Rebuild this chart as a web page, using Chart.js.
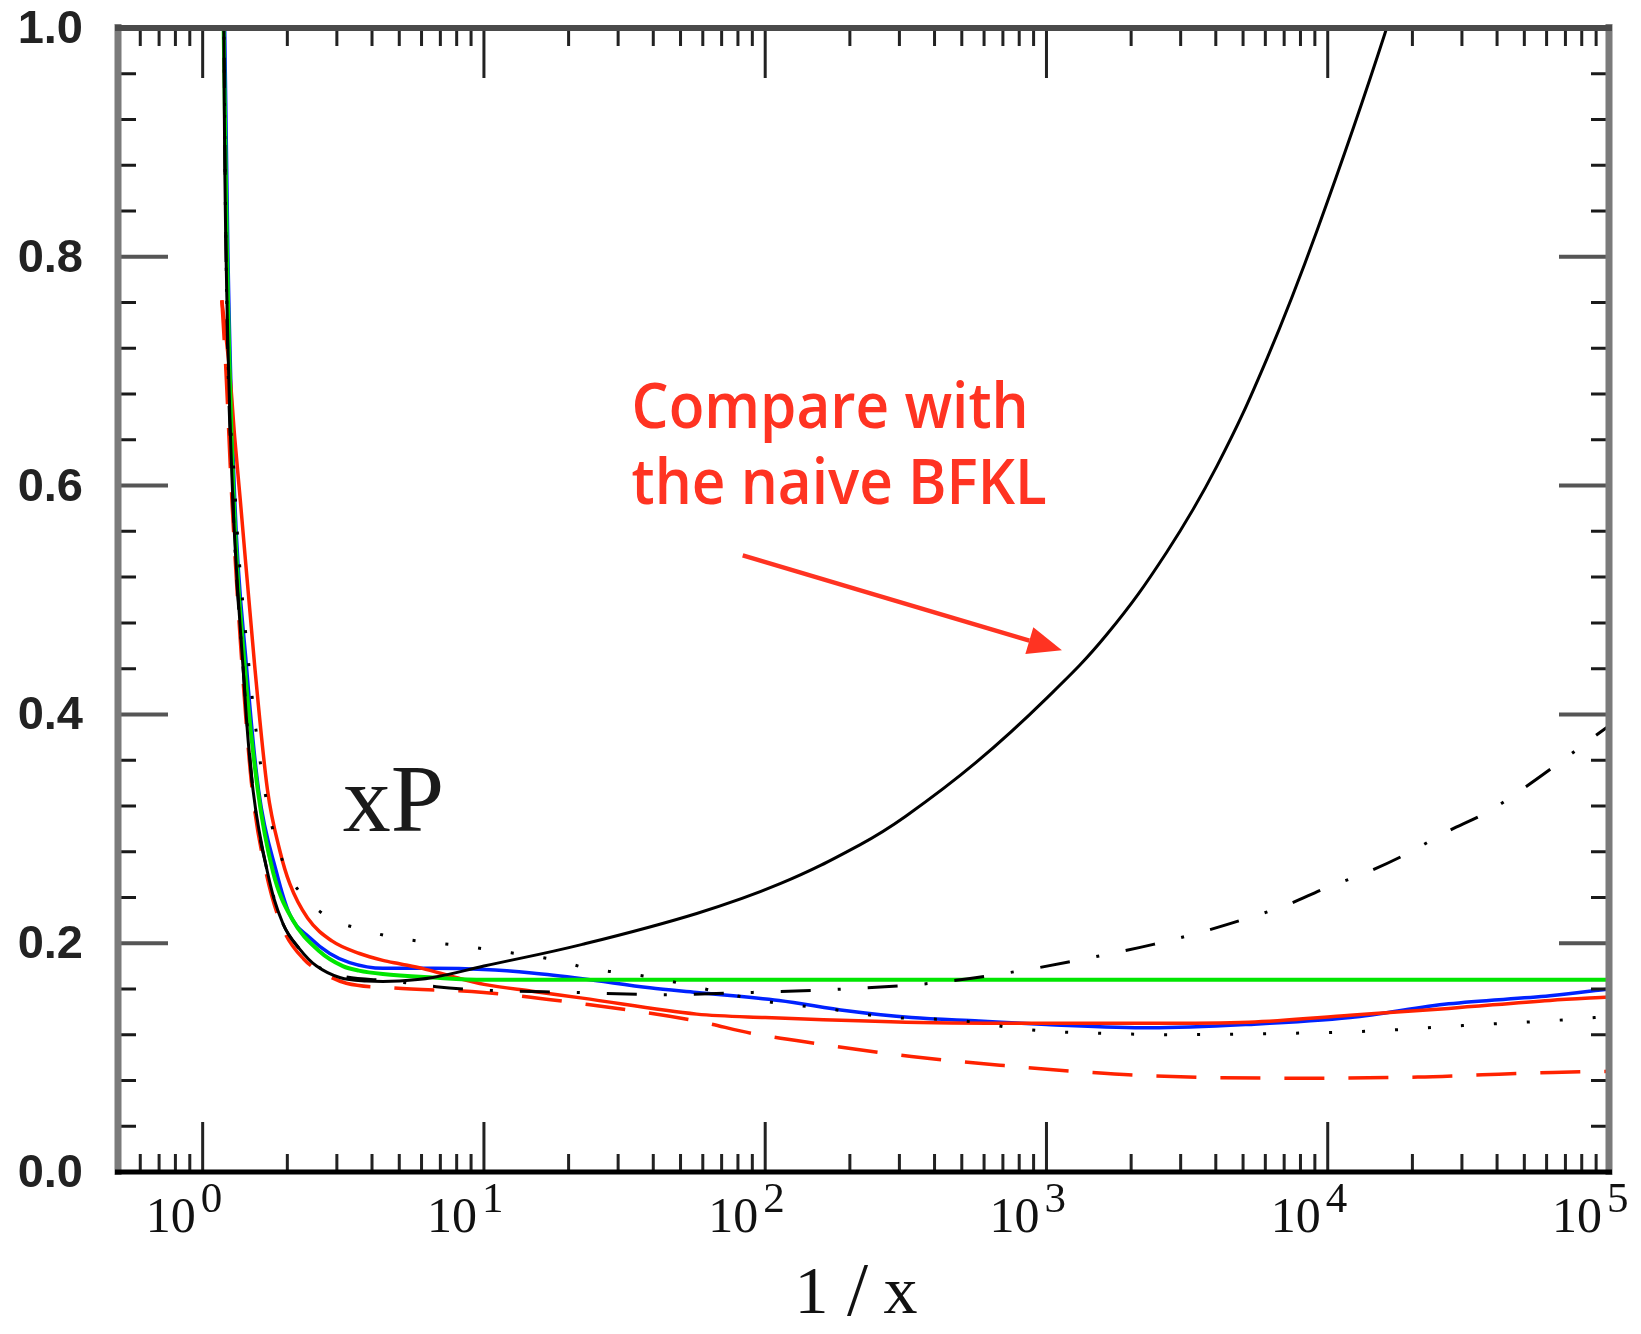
<!DOCTYPE html>
<html>
<head>
<meta charset="utf-8">
<title>xP vs 1/x</title>
<script src="https://cdn.jsdelivr.net/npm/chart.js"></script>
<style>
  html, body { margin: 0; padding: 0; background: #fff; }
  #wrap { width: 1641px; height: 1334px; }
</style>
</head>
<body>
<div id="wrap"><canvas id="xp-chart" width="1641" height="1334"></canvas></div>
<script>

/**
 * xP as a function of 1/x
 * values
 */

// black solid : naive BFKL
const bfklX = [1.185, 1.21, 1.28, 1.39, 1.51, 1.70, 1.93, 2.21, 2.54, 3.07, 3.83, 5.01, 6.58, 10, 22.4, 57.1, 113, 217, 316, 562, 1000, 1641, 2679, 4036, 6081, 9162, 15959, 19953];
const bfklY = [1.05, 0.806, 0.588, 0.443, 0.334, 0.262, 0.217, 0.195, 0.180, 0.170, 0.167, 0.167, 0.170, 0.180, 0.199, 0.226, 0.252, 0.286, 0.311, 0.358, 0.414, 0.470, 0.542, 0.617, 0.711, 0.823, 0.995, 1.08];

// black dash-dot
const dashDotX = [1.185, 1.21, 1.28, 1.39, 1.51, 1.70, 1.93, 2.21, 2.63, 3.16, 4.68, 6.76, 10, 20.9, 42.7, 90.4, 191, 389, 813, 1698, 2399, 3467, 4898, 7079, 9772, 13804, 19055, 26303, 37154, 50119, 67608, 89125, 100000];
const dashDotY = [1.05, 0.806, 0.588, 0.443, 0.334, 0.262, 0.217, 0.195, 0.178, 0.171, 0.167, 0.162, 0.159, 0.157, 0.155, 0.157, 0.160, 0.165, 0.176, 0.191, 0.199, 0.209, 0.220, 0.233, 0.248, 0.262, 0.278, 0.297, 0.315, 0.336, 0.359, 0.381, 0.390];

// black dotted
const dottedX = [1.185, 1.21, 1.30, 1.45, 1.66, 1.95, 2.31, 2.83, 3.67, 4.82, 6.27, 8.20, 10.7, 18.2, 23.4, 30.9, 39.8, 51.8, 69.2, 115, 151, 200, 257, 347, 468, 759, 1000, 1259, 1698, 2692, 6310, 13804, 30200, 69183, 100000];
const dottedY = [1.05, 0.806, 0.600, 0.450, 0.334, 0.268, 0.240, 0.222, 0.212, 0.205, 0.201, 0.198, 0.194, 0.185, 0.178, 0.174, 0.170, 0.164, 0.157, 0.147, 0.144, 0.140, 0.136, 0.134, 0.133, 0.126, 0.123, 0.122, 0.121, 0.120, 0.121, 0.123, 0.128, 0.133, 0.136];

// red dashed
const redDashX = [1.17, 1.21, 1.27, 1.38, 1.50, 1.68, 1.92, 2.29, 2.82, 3.24, 4.68, 10, 22.4, 57.1, 90.4, 155, 331, 708, 1259, 2344, 7943, 20893, 35481, 63096, 100000];
const redDashY = [0.762, 0.700, 0.588, 0.443, 0.334, 0.262, 0.214, 0.186, 0.171, 0.165, 0.161, 0.157, 0.147, 0.132, 0.121, 0.112, 0.101, 0.093, 0.088, 0.084, 0.082, 0.083, 0.085, 0.087, 0.088];

// green solid
const greenX = [1.18, 1.22, 1.29, 1.41, 1.57, 1.78, 2.07, 2.60, 3.15, 3.59, 4.37, 6.58, 10, 100000];
const greenY = [1.05, 0.806, 0.588, 0.443, 0.334, 0.262, 0.222, 0.193, 0.180, 0.176, 0.173, 0.170, 0.168, 0.168];

// red solid
const redX = [1.17, 1.25, 1.30, 1.36, 1.53, 1.70, 1.88, 2.04, 2.36, 2.88, 3.61, 4.37, 5.01, 6.03, 7.94, 10, 14.8, 22.4, 57.1, 100, 316, 1000, 2344, 5248, 12023, 26915, 61660, 100000];
const redY = [0.762, 0.697, 0.642, 0.588, 0.443, 0.334, 0.281, 0.252, 0.222, 0.202, 0.191, 0.185, 0.182, 0.178, 0.170, 0.164, 0.158, 0.152, 0.138, 0.135, 0.131, 0.130, 0.130, 0.131, 0.137, 0.143, 0.150, 0.153];

// blue solid
const blueX = [1.19, 1.23, 1.30, 1.43, 1.58, 1.83, 2.04, 2.40, 2.83, 3.33, 4.37, 6.58, 10, 14.8, 22.4, 38.9, 57.1, 112, 195, 331, 575, 1000, 2344, 5248, 12023, 26915, 61660, 100000];
const blueY = [1.05, 0.800, 0.588, 0.443, 0.334, 0.262, 0.225, 0.205, 0.191, 0.183, 0.178, 0.178, 0.177, 0.174, 0.169, 0.161, 0.157, 0.150, 0.141, 0.135, 0.132, 0.129, 0.126, 0.129, 0.135, 0.147, 0.154, 0.160];

// axes
const yTickValues = [0, 0.2, 0.4, 0.6, 0.8, 1.0];
const yTickLabels = ["0.0", "0.2", "0.4", "0.6", "0.8", "1.0"];
const yMinorStep = 0.04;
const xDecades = [0, 1, 2, 3, 4, 5];

// annotation
const noteLines = ["Compare with", "the naive BFKL"];
const noteX = 33.5;
const noteY = [0.650, 0.584];
const noteWidth = 397;
const arrowFrom = { x: 83.2, y: 0.539 };
const arrowTo = { x: 1135, y: 0.456 };
const curveLabel = { text: "xP", x: 3.15, y: 0.298 };


function pts(xs, ys){
    return xs.map((x, i) => ({ x: x, y: ys[i] }));
}


const framePlugin = {

    id: "frame",

    afterDatasetsDraw(chart){

        const ctx = chart.ctx;
        const a = chart.chartArea;
        const sx = chart.scales.x;
        const sy = chart.scales.y;

        ctx.save();
        ctx.lineCap = "butt";

        /* y ticks, inward on both sides */
        const nY = Math.round(1 / yMinorStep);
        for(let i = 0; i <= nY; i++){
            const py = sy.getPixelForValue(i * yMinorStep);
            const major = i % 5 === 0;
            const len = major ? 50 : 18;
            ctx.strokeStyle = major ? "#555" : "#1a1a1a";
            ctx.lineWidth = major ? 4 : 3;
            ctx.beginPath();
            ctx.moveTo(a.left, py); ctx.lineTo(a.left + len, py);
            ctx.moveTo(a.right, py); ctx.lineTo(a.right - len, py);
            ctx.stroke();
        }

        /* x ticks, log decades */
        ctx.strokeStyle = "#222";
        ctx.lineWidth = 3;
        for(let d = -1; d <= 4; d++){
            for(let k = 1; k <= 9; k++){
                const v = k * Math.pow(10, d);
                if(v <= sx.min || v >= sx.max) continue;
                const px = sx.getPixelForValue(v);
                const len = k === 1 ? 50 : 18;
                ctx.beginPath();
                ctx.moveTo(px, a.bottom); ctx.lineTo(px, a.bottom - len);
                ctx.moveTo(px, a.top); ctx.lineTo(px, a.top + len);
                ctx.stroke();
            }
        }

        /* frame */
        ctx.lineWidth = 7;
        ctx.strokeStyle = "#7b7b7b";
        ctx.beginPath();
        ctx.moveTo(a.left, a.top - 4); ctx.lineTo(a.left, a.bottom + 3);
        ctx.moveTo(a.right, a.top - 4); ctx.lineTo(a.right, a.bottom + 3);
        ctx.stroke();

        ctx.lineWidth = 6;
        ctx.strokeStyle = "#4a4a4a";
        ctx.beginPath();
        ctx.moveTo(a.left - 3, a.top); ctx.lineTo(a.right + 3, a.top);
        ctx.stroke();

        ctx.lineWidth = 5;
        ctx.strokeStyle = "#000";
        ctx.beginPath();
        ctx.moveTo(a.left - 3, a.bottom); ctx.lineTo(a.right + 3, a.bottom);
        ctx.stroke();

        /* y labels */
        ctx.fillStyle = "#222";
        ctx.font = "bold 47px 'Liberation Sans', Arial, sans-serif";
        ctx.textAlign = "right";
        ctx.textBaseline = "middle";
        yTickValues.forEach((v, i) => {
            ctx.fillText(yTickLabels[i], a.left - 35, sy.getPixelForValue(v) + 2);
        });

        /* x labels 10^n */
        ctx.fillStyle = "#111";
        ctx.textBaseline = "alphabetic";
        xDecades.forEach(n => {
            const px = sx.getPixelForValue(Math.pow(10, n));
            ctx.font = "50px 'Liberation Serif', 'Times New Roman', serif";
            ctx.textAlign = "right";
            ctx.fillText("10", px - 7, a.bottom + 60);
            ctx.font = "43px 'Liberation Serif', 'Times New Roman', serif";
            ctx.textAlign = "left";
            ctx.fillText(String(n), px - 2, a.bottom + 40);
        });

        /* axis title */
        ctx.font = "68px 'Liberation Serif', 'Times New Roman', serif";
        ctx.textAlign = "center";
        const cx = (a.left + a.right) / 2;
        ctx.fillText("1", cx - 52, a.bottom + 141);
        ctx.font = "76px 'Liberation Serif', 'Times New Roman', serif";
        ctx.fillText("/", cx - 6, a.bottom + 143);
        ctx.font = "68px 'Liberation Serif', 'Times New Roman', serif";
        ctx.fillText("x", cx + 37, a.bottom + 141);

        /* curve label */
        ctx.font = "96px 'Liberation Serif', 'Times New Roman', serif";
        ctx.textAlign = "left";
        ctx.fillStyle = "#1a1a1a";
        ctx.fillText(curveLabel.text, sx.getPixelForValue(curveLabel.x), sy.getPixelForValue(curveLabel.y));

        /* annotation, squeezed to the width seen in the picture */
        ctx.fillStyle = "#ff3322";
        ctx.font = "600 64px 'Open Sans', 'Noto Sans', sans-serif";
        const squeeze = noteWidth / ctx.measureText(noteLines[0]).width;
        noteLines.forEach((t, i) => {
            const tx = sx.getPixelForValue(noteX);
            const ty = sy.getPixelForValue(noteY[i]);
            ctx.save();
            ctx.translate(tx, ty);
            ctx.scale(squeeze, 1);
            ctx.fillText(t, 0, 0);
            ctx.restore();
        });

        const x0 = sx.getPixelForValue(arrowFrom.x), y0 = sy.getPixelForValue(arrowFrom.y);
        const x1 = sx.getPixelForValue(arrowTo.x), y1 = sy.getPixelForValue(arrowTo.y);
        const ang = Math.atan2(y1 - y0, x1 - x0);
        const head = 34, half = 14;
        ctx.strokeStyle = "#ff3322";
        ctx.lineWidth = 4.5;
        ctx.beginPath();
        ctx.moveTo(x0, y0);
        ctx.lineTo(x1 - head * Math.cos(ang), y1 - head * Math.sin(ang));
        ctx.stroke();
        ctx.beginPath();
        ctx.moveTo(x1, y1);
        ctx.lineTo(x1 - head * Math.cos(ang) + half * Math.sin(ang), y1 - head * Math.sin(ang) - half * Math.cos(ang));
        ctx.lineTo(x1 - head * Math.cos(ang) - half * Math.sin(ang), y1 - head * Math.sin(ang) + half * Math.cos(ang));
        ctx.closePath();
        ctx.fill();

        ctx.restore();
    }
};


const XpChart = {

    instance: null,

    init(){

        const canvas = document.getElementById("xp-chart");
        if(!canvas){
            return;
        }

        if(this.instance){
            this.instance.destroy();
        }

        this.instance = new Chart(canvas, {
            type: "line",
            data: {
                datasets: [
                    { data: pts(bfklX, bfklY), borderColor: "#000", borderWidth: 3, cubicInterpolationMode: "default", tension: 0.4 },
                    { data: pts(dashDotX, dashDotY), borderColor: "#000", borderWidth: 3, borderDash: [30, 27, 3, 27] },
                    { data: pts(dottedX, dottedY), borderColor: "#000", borderWidth: 3, borderDash: [3, 30] },
                    { data: pts(redDashX, redDashY), borderColor: "#ff2200", borderWidth: 3.5, borderDash: [40, 24] },
                    { data: pts(greenX, greenY), borderColor: "#00e600", borderWidth: 4 },
                    { data: pts(redX, redY), borderColor: "#ff2200", borderWidth: 3.5 },
                    { data: pts(blueX, blueY), borderColor: "#0022ff", borderWidth: 3.5 }
                ]
            },
            options: {
                responsive: false,
                animation: false,
                devicePixelRatio: 1,
                layout: { padding: { left: 118, right: 32, top: 28, bottom: 162 } },
                elements: {
                    point: { radius: 0 },
                    line: { cubicInterpolationMode: "monotone", fill: false }
                },
                plugins: {
                    legend: { display: false },
                    tooltip: { enabled: false }
                },
                scales: {
                    x: { type: "logarithmic", min: 0.5, max: 100000, display: false },
                    y: { type: "linear", min: 0, max: 1, display: false }
                }
            },
            plugins: [framePlugin]
        });
    }
};

XpChart.init();

</script>
</body>
</html>
